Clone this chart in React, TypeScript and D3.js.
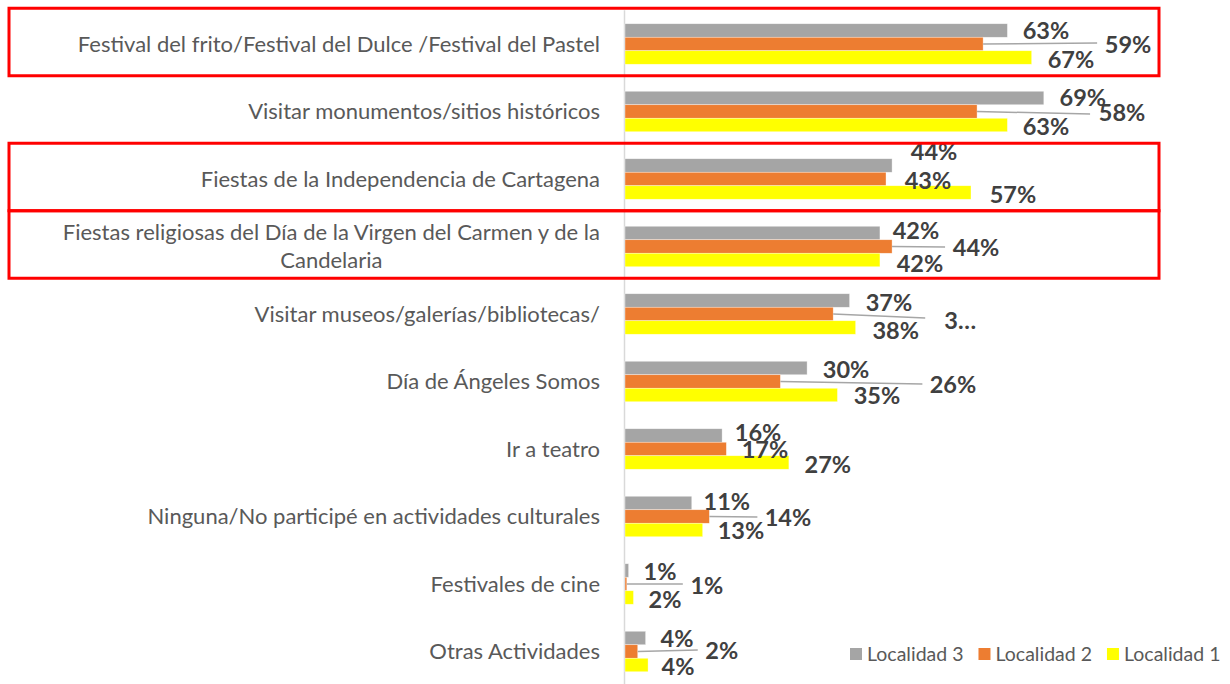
import React, { useEffect, useRef } from "react";
import * as d3 from "d3";

// ---------- data ----------
const categories = [
  "Festival del frito/Festival del Dulce /Festival del Pastel",
  "Visitar monumentos/sitios históricos",
  "Fiestas de la Independencia de Cartagena",
  "Fiestas religiosas del Día de la Virgen del Carmen y de la Candelaria",
  "Visitar museos/galerías/bibliotecas/",
  "Día de Ángeles Somos",
  "Ir a teatro",
  "Ninguna/No participé en actividades culturales",
  "Festivales de cine",
  "Otras Actividades",
];

const seriesNames = ["Localidad 3", "Localidad 2", "Localidad 1"];

// bar values (%)
const localidad3 = [63, 69, 44, 42, 37, 30, 16, 11, 0.6, 3.4];
const localidad2 = [59, 58, 43, 44, 34.3, 25.6, 16.7, 13.9, 0.3, 2.1];
const localidad1 = [67, 63, 57, 42, 38, 35, 27, 12.8, 1.4, 3.8];

// data labels as printed on the chart
const labels3 = ["63%", "69%", "44%", "42%", "37%", "30%", "16%", "11%", "1%", "4%"];
const labels2 = ["59%", "58%", "43%", "44%", "3…", "26%", "17%", "14%", "1%", "2%"];
const labels1 = ["67%", "63%", "57%", "42%", "38%", "35%", "27%", "13%", "2%", "4%"];

// categories highlighted with a red frame
const highlighted = [categories[0], categories[2], categories[3]];

// ---------- layout / style (kept apart from the data) ----------
const colors = ["#A5A5A5", "#ED7D31", "#FFFF00"];

// label centre offsets from (bar end, bar centre)
const labelOffsets: number[][][] = [
  [[38.6, 0.5], [39, 0], [42, -13.5], [36, -2], [39.4, 2.5], [39, 2], [36, -2.5], [35, -1], [31.4, 1.5], [31.4, 1]],
  [[145, 1], [145, 1.5], [42, 2], [84, 1.5], [127, 7], [172.6, 3.5], [38.6, 1], [78.6, 1.5], [80, 2], [84, -0.5]],
  [[39.3, 2.5], [38.6, 2], [42, 2.5], [40, 4], [40, 3.5], [39.5, 1], [39, 2.5], [38.3, 1], [31.5, 2.5], [30, 2]],
];
// leader line end offsets from (bar end, bar centre), only for series "Localidad 2"
const leaderOffsets: (number[] | null)[] = [
  [114, -1], [113, 2.5], null, [53, 0.5], [92, 4], [142, 2.5], null, [48, 0.5], [56, 0], [60, -1.5],
];

const FONT = "Lato, 'Open Sans', 'Noto Sans', sans-serif";
const CAT_FS = 22;
const LBL_FS = 23.5;
const LEG_FS = 19.5;

export default function App() {
  const ref = useRef<SVGSVGElement>(null);

  useEffect(() => {
    const draw = () => {
      const svg = d3.select(ref.current);
      svg.selectAll("*").remove();
      const values = [localidad3, localidad2, localidad1];
      const labels = [labels3, labels2, labels1];

      const x = d3.scaleLinear().domain([0, 100]).range([625, 1232]);
      const y = d3
        .scaleBand<string>()
        .domain(categories)
        .range([10.25, 685.25])
        .paddingInner(0)
        .paddingOuter(0);
      const ySub = d3
        .scaleBand<string>()
        .domain(seriesNames)
        .range([0, y.bandwidth()])
        .paddingInner(0)
        .paddingOuter(1);

      // axis line
      svg
        .append("line")
        .attr("x1", x(0) - 0.5)
        .attr("x2", x(0) - 0.5)
        .attr("y1", y.range()[0])
        .attr("y2", y.range()[1] - 1)
        .attr("stroke", "#D9D9D9")
        .attr("stroke-width", 1.5);

      // bars
      seriesNames.forEach((name, s) => {
        svg
          .append("g")
          .selectAll("rect")
          .data(categories)
          .join("rect")
          .attr("x", x(0))
          .attr("y", (c) => (y(c) as number) + (ySub(name) as number))
          .attr("width", (_c, i) => x(values[s][i]) - x(0))
          .attr("height", ySub.bandwidth())
          .attr("fill", colors[s])
          .attr("stroke", "#ffffff")
          .attr("stroke-opacity", 0.6)
          .attr("stroke-width", 0.6);
      });

      // category labels (wrapped, block right-aligned, lines centred)
      const catG = svg
        .append("g")
        .attr("font-family", FONT)
        .attr("font-size", CAT_FS)
        .attr("fill", "#595959");
      const measure = catG.append("text").attr("visibility", "hidden");
      const widthOf = (t: string) => {
        measure.text(t);
        return (measure.node() as SVGTextElement).getComputedTextLength();
      };
      const maxW = 565;
      const rightX = 600;
      const cap = CAT_FS * 0.72;
      categories.forEach((c) => {
        const words = c.split(" ");
        const lines: string[] = [];
        let cur = "";
        words.forEach((w) => {
          const t = cur ? cur + " " + w : w;
          if (widthOf(t) > maxW && cur) {
            lines.push(cur);
            cur = w;
          } else cur = t;
        });
        lines.push(cur);
        const cy = (y(c) as number) + y.bandwidth() / 2;
        const lh = 28;
        if (lines.length === 1) {
          catG
            .append("text")
            .attr("x", rightX)
            .attr("y", cy + cap / 2)
            .attr("text-anchor", "end")
            .text(lines[0]);
        } else {
          const mw = d3.max(lines, (l) => widthOf(l)) as number;
          const cx = rightX - mw / 2;
          lines.forEach((l, k) => {
            catG
              .append("text")
              .attr("x", cx)
              .attr("y", cy - ((lines.length - 1) * lh) / 2 + k * lh + cap / 2)
              .attr("text-anchor", "middle")
              .text(l);
          });
        }
      });
      measure.remove();

      // leader lines
      const leaderG = svg.append("g");
      categories.forEach((c, i) => {
        const lo = leaderOffsets[i];
        if (!lo) return;
        const ex = x(localidad2[i]);
        const cy = (y(c) as number) + (ySub(seriesNames[1]) as number) + ySub.bandwidth() / 2;
        leaderG
          .append("line")
          .attr("x1", ex)
          .attr("y1", cy)
          .attr("x2", ex + lo[0])
          .attr("y2", cy + lo[1])
          .attr("stroke", "#A6A6A6")
          .attr("stroke-width", 1.5);
      });

      // data labels
      const lblG = svg
        .append("g")
        .attr("font-family", FONT)
        .attr("font-size", LBL_FS)
        .attr("font-weight", "bold")
        .attr("fill", "#404040")
        .attr("text-anchor", "middle");
      const lcap = LBL_FS * 0.72;
      seriesNames.forEach((name, s) => {
        categories.forEach((c, i) => {
          const ex = x(values[s][i]);
          const cy = (y(c) as number) + (ySub(name) as number) + ySub.bandwidth() / 2;
          const off = labelOffsets[s][i];
          lblG
            .append("text")
            .attr("x", ex + off[0])
            .attr("y", cy + off[1] + lcap / 2)
            .text(labels[s][i]);
        });
      });

      // highlight frames
      svg
        .append("g")
        .selectAll("rect")
        .data(highlighted)
        .join("rect")
        .attr("x", 9)
        .attr("y", (c) => (y(c) as number) - 2)
        .attr("width", 1150)
        .attr("height", y.bandwidth())
        .attr("fill", "none")
        .attr("stroke", "#FF0000")
        .attr("stroke-width", 3);

      // legend
      const legG = svg
        .append("g")
        .attr("font-family", FONT)
        .attr("font-size", LEG_FS)
        .attr("fill", "#595959");
      let lx = 850;
      seriesNames.forEach((name, s) => {
        legG
          .append("rect")
          .attr("x", lx)
          .attr("y", 648)
          .attr("width", 12)
          .attr("height", 12)
          .attr("fill", colors[s]);
        const t = legG
          .append("text")
          .attr("x", lx + 17)
          .attr("y", 661)
          .text(name);
        const w = (t.node() as SVGTextElement).getComputedTextLength();
        lx = lx + 17 + w + 15;
      });
    };
    if ((document as any).fonts && (document as any).fonts.ready) {
      (document as any).fonts.ready.then(draw);
    } else draw();
  }, []);

  return (
    <svg
      ref={ref}
      width={1230}
      height={684}
      style={{ position: "absolute", left: 0, top: 0, display: "block", background: "#fff" }}
    />
  );
}
